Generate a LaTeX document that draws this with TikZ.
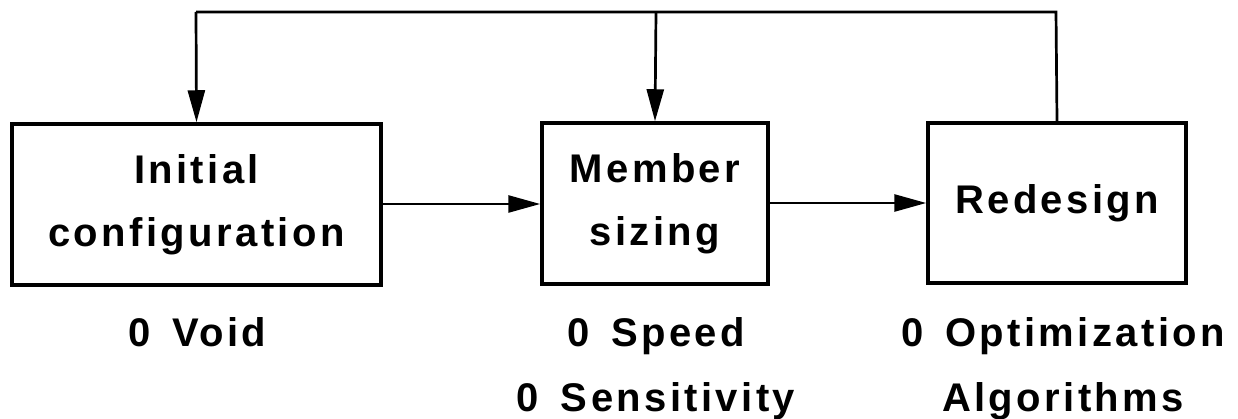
\documentclass[tikz,border=0pt]{standalone}
\usepackage{fontspec}
\setmainfont{Liberation Sans}[LetterSpace=8.5, WordSpace=1.5]
\usetikzlibrary{arrows.meta}
\begin{document}
\begin{tikzpicture}[x=1pt,y=-1pt,
  every node/.style={font=\fontsize{40}{63}\selectfont\bfseries, inner sep=0pt},
  box/.style={draw, line width=3.5pt, align=center},
  note/.style={align=center, anchor=north, font=\fontsize{40}{65}\selectfont\bfseries},
  link/.style={line width=2.7pt, -{Triangle[length=32pt,width=17pt]}},
  wire/.style={line width=2.7pt}]
  \useasboundingbox (0,0) rectangle (1238,419);

  % process boxes
  \node[box, minimum width=369pt, minimum height=161pt] (init) at (196.5,204.5) {Initial\\configuration};
  \node[box, minimum width=226pt, minimum height=161pt] (size) at (655,203.5) {Member\\sizing};
  \node[box, minimum width=258pt, minimum height=160pt] (redo) at (1057,203) {Redesign};

  % notes under the boxes
  \node[note] (n1) at (197,317) {0 Void};
  \node[note] (n2) at (656,317) {0 Speed\\0 Sensitivity};
  \node[note] (n3) at (1063,317) {0 Optimization\\Algorithms};

  % forward flow
  \draw[link] (init.east |- 0,204) -- (size.west |- 0,204);
  \draw[link] (size.east |- 0,203) -- (redo.west |- 0,203);

  % feedback loop
  \coordinate (top) at (1056,12);
  \coordinate (topleft) at (196,12);
  \coordinate (topmid) at (656,12);
  \draw[wire] (redo.north) -- (top) -- (topleft);
  \draw[link] (topleft) -- (init.north);
  \draw[link] (topmid) -- (size.north);
\end{tikzpicture}
\end{document}
